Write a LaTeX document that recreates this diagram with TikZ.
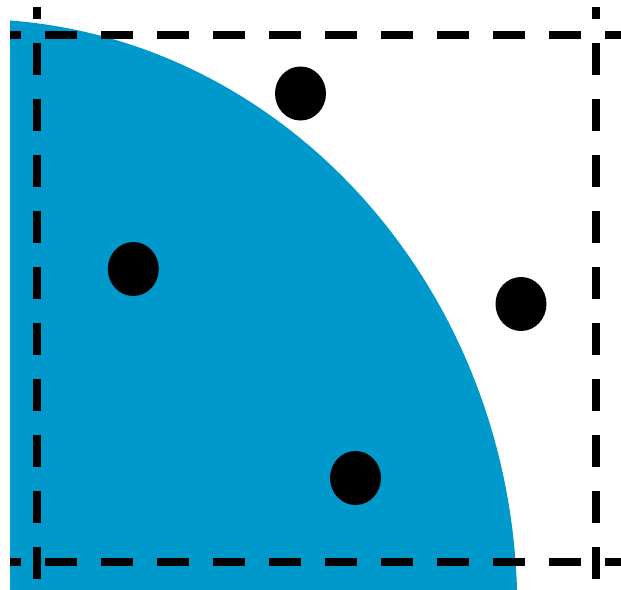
\documentclass[tikz,border=0pt]{standalone}
\usetikzlibrary{shapes.geometric}
\definecolor{diskblue}{RGB}{0,153,204}
\tikzset{
  gridline/.style={line width=8pt, dash pattern=on 32pt off 24pt},
  hline/.style={gridline, dash phase=21pt},
  vline/.style={gridline, dash phase=20pt},
  dot/.style={fill=black}
}
\begin{document}
\begin{tikzpicture}[x=1pt,y=-1pt]
\useasboundingbox (0,0) rectangle (621,589);
% quarter disk
\begin{scope}
  \clip (10,0) rectangle (621,589);
  \fill[diskblue] (-29.2,609) ellipse [x radius=546.5pt, y radius=590pt];
\end{scope}
% dashed lines
\coordinate (h1a) at (10,35);
\coordinate (h1b) at (621,35);
\coordinate (h2a) at (10,562);
\coordinate (h2b) at (621,562);
\coordinate (v1a) at (37,7);
\coordinate (v1b) at (37,589);
\coordinate (v2a) at (596,7);
\coordinate (v2b) at (596,589);
\draw[hline] (h1a) -- (h1b);
\draw[hline] (h2a) -- (h2b);
\draw[vline] (v1a) -- (v1b);
\draw[vline] (v2a) -- (v2b);
% dots
\fill[dot] (300.5,93.5) ellipse [x radius=25.5pt, y radius=27pt];
\fill[dot] (133.3,269) ellipse [x radius=25.5pt, y radius=27pt];
\fill[dot] (521,304) ellipse [x radius=25.5pt, y radius=27pt];
\fill[dot] (355.5,478) ellipse [x radius=25.5pt, y radius=27pt];
\end{tikzpicture}
\end{document}
